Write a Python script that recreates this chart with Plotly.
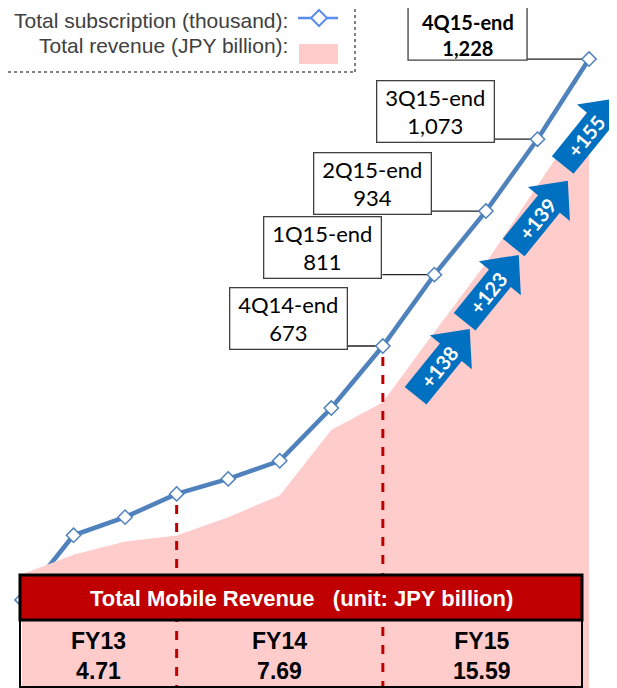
import numpy as np
import plotly.graph_objects as go

# quarterly data (1Q13 .. 4Q15)
quarters = ["1Q13", "2Q13", "3Q13", "4Q13", "1Q14", "2Q14", "3Q14", "4Q14",
            "1Q15", "2Q15", "3Q15", "4Q15"]
subscriptions = [182, 307, 342, 387, 416, 451, 553, 673, 811, 934, 1073, 1228]
revenue = [0.99, 1.15, 1.26, 1.31, 1.46, 1.64, 2.18, 2.41, 2.99, 3.56, 4.20, 4.84]

fy_labels = ["FY13", "FY14", "FY15"]
fy_revenue = ["4.71", "7.69", "15.59"]
fy_end_idx = [3, 7]          # quarter index of the FY boundaries (dashed lines)

callout_idx = [7, 8, 9, 10, 11]
callout_gap = [35, 52, 54, 43, 62]   # px between box and marker

W, H = 617, 688
PAGE = 8                     # body margin of the html page
x_idx = list(range(len(quarters)))

LINE_BLUE = "#4F81BD"
PINK = "#FFCCCC"
RED = "#C00000"
ARROW_BLUE = "#0070C0"

# pixel scales of the chart (in screen pixels)
X_STEP = 51.55               # px per quarter
X_FIRST = 22                 # screen x of first quarter
Y_BASE = 694                 # screen y of zero
SUB_PER_PX = 1.934
REV_PX = 121.07

def px(v):
    return (v - PAGE) / W

def py(v):
    return 1 - (v - PAGE) / H

def xpix(v):
    return X_FIRST + v * X_STEP

X0 = (PAGE - X_FIRST) / X_STEP
X1 = X0 + W / X_STEP

fig = go.Figure()

fig.add_trace(go.Scatter(
    x=x_idx, y=revenue, yaxis="y2",
    mode="lines", line=dict(width=0, color=PINK),
    fill="tozeroy", fillcolor=PINK,
    hoverinfo="skip", showlegend=False
))
fig.add_trace(go.Scatter(
    x=x_idx, y=subscriptions,
    mode="lines+markers",
    line=dict(color=LINE_BLUE, width=4.5),
    marker=dict(symbol="diamond", size=11, color="white",
                line=dict(color=LINE_BLUE, width=1.5)),
    showlegend=False
))

shapes = []
annotations = []

# callout boxes with connector lines to the markers
for i, gap in zip(callout_idx, callout_gap):
    shapes.append(dict(
        type="line", layer="below",
        xref="x", xsizemode="pixel", xanchor=i, x0=-gap, x1=0,
        yref="y", ysizemode="pixel", yanchor=subscriptions[i], y0=0, y1=0,
        line=dict(color="#202020", width=1.3)
    ))
    txt = f"{quarters[i]}-end<br>{subscriptions[i]:,}"
    if i == callout_idx[-1]:
        # last box runs off the top edge: draw the frame as a shape
        shapes.append(dict(
            type="rect", layer="above",
            xref="x", xsizemode="pixel", xanchor=i, x0=-gap - 119, x1=-gap,
            yref="y", ysizemode="pixel", yanchor=subscriptions[i], y0=-1, y1=80,
            fillcolor="white", line=dict(color="#404040", width=1.3)
        ))
        annotations.append(dict(
            x=i, y=subscriptions[i], xref="x", yref="y",
            xanchor="center", yanchor="middle", xshift=-gap - 59.5, yshift=24,
            text=f"<b>{txt}</b>", showarrow=False, align="center",
            font=dict(family="Lato", size=20, color="black")
        ))
        continue
    annotations.append(dict(
        x=i, y=subscriptions[i], xref="x", yref="y",
        xanchor="right", yanchor="bottom", xshift=-gap, yshift=-4,
        text=txt, showarrow=False, align="center",
        width=112, height=56, borderpad=2,
        bgcolor="white", bordercolor="#404040", borderwidth=1.3,
        font=dict(family="Lato", size=22, color="black")
    ))

# growth arrows between the last quarters
ang = np.deg2rad(51)
u = np.array([np.cos(ang), np.sin(ang)])
n = np.array([-np.sin(ang), np.cos(ang)])
pts = [-43 * u + 14 * n, -43 * u - 14 * n, 13 * u - 14 * n, 13 * u - 27 * n,
       43 * u, 13 * u + 27 * n, 13 * u + 14 * n]
for k in range(4):
    a, b = 7 + k, 8 + k
    xm = (a + b) / 2
    ym = (subscriptions[a] + subscriptions[b]) / 2
    off = np.array([34 - 2.5 * k, -52 + 6.5 * k])
    path = "M " + " L ".join(f"{p[0] + off[0]:.1f},{p[1] + off[1]:.1f}" for p in pts) + " Z"
    shapes.append(dict(
        type="path", path=path, layer="above",
        xref="x", xsizemode="pixel", xanchor=xm,
        yref="y", ysizemode="pixel", yanchor=ym,
        fillcolor=ARROW_BLUE, line=dict(width=0)
    ))
    tp = off - 6 * u
    annotations.append(dict(
        x=xm, y=ym, xref="x", yref="y", xshift=tp[0], yshift=tp[1],
        xanchor="center", yanchor="middle",
        text=f"<b>+{subscriptions[b] - subscriptions[a]}</b>",
        textangle=-51, showarrow=False,
        font=dict(family="Lato", size=20, color="white")
    ))

# dashed FY boundaries
for i in fy_end_idx:
    shapes.append(dict(
        type="line", layer="above",
        xref="x", x0=i, x1=i,
        yref="y", ysizemode="pixel", yanchor=subscriptions[i], y0=-11, y1=-700,
        line=dict(color=RED, width=3, dash="dash")
    ))

# revenue table
tbl_l, tbl_r, hdr_t, hdr_b, tbl_b = 20, 582, 575, 620, 687
shapes.append(dict(type="rect", xref="paper", yref="paper", layer="above",
                   x0=px(tbl_l), x1=px(tbl_r), y0=py(hdr_b), y1=py(hdr_t),
                   fillcolor=RED, line=dict(color="black", width=3)))
shapes.append(dict(type="rect", xref="paper", yref="paper", layer="above",
                   x0=px(tbl_l), x1=px(tbl_r), y0=py(tbl_b), y1=py(hdr_b),
                   fillcolor="rgba(0,0,0,0)", line=dict(color="black", width=2)))
annotations.append(dict(
    x=px((tbl_l + tbl_r) / 2), y=py((hdr_t + hdr_b) / 2 + 1), xref="paper", yref="paper",
    xanchor="center", yanchor="middle",
    text="<b>Total Mobile Revenue\u00a0\u00a0\u00a0(unit: JPY billion)</b>",
    showarrow=False, font=dict(family="Liberation Sans", size=22, color="white")
))

# column centres from the FY boundaries
edges = [tbl_l] + [xpix(i) for i in fy_end_idx] + [tbl_r]
for k, (lab, val) in enumerate(zip(fy_labels, fy_revenue)):
    annotations.append(dict(
        x=px((edges[k] + edges[k + 1]) / 2), y=py(656), xref="paper", yref="paper",
        xanchor="center", yanchor="middle",
        text=f"<b>{lab}<br>{val}</b>", showarrow=False,
        font=dict(family="Liberation Sans", size=23, color="black")
    ))

# legend box
LEG_BLUE = "#5B8DEF"
shapes.append(dict(type="line", xref="paper", yref="paper", x0=px(355), x1=px(355),
                   y0=py(72), y1=1, line=dict(color="#808080", width=2, dash="dot")))
shapes.append(dict(type="line", xref="paper", yref="paper", x0=0, x1=px(355),
                   y0=py(72), y1=py(72), line=dict(color="#808080", width=2, dash="dot")))
shapes.append(dict(type="line", xref="paper", yref="paper", x0=px(298), x1=px(338),
                   y0=py(18), y1=py(18), line=dict(color=LEG_BLUE, width=2.5)))
shapes.append(dict(type="path", xref="paper", yref="paper",
                   xsizemode="pixel", ysizemode="pixel", xanchor=px(319), yanchor=py(18),
                   path="M -8,0 L 0,8 L 8,0 L 0,-8 Z",
                   fillcolor="white", line=dict(color=LEG_BLUE, width=2)))
shapes.append(dict(type="rect", xref="paper", yref="paper", x0=px(299), x1=px(338),
                   y0=py(64), y1=py(44), fillcolor=PINK, line=dict(width=0)))
annotations.append(dict(x=px(290), y=py(20), xref="paper", yref="paper",
                        xanchor="right", yanchor="middle",
                        text="Total subscription (thousand):",
                        showarrow=False, font=dict(family="Liberation Sans", size=21, color="#404040")))
annotations.append(dict(x=px(290), y=py(46), xref="paper", yref="paper",
                        xanchor="right", yanchor="middle",
                        text="Total revenue (JPY billion):",
                        showarrow=False, font=dict(family="Liberation Sans", size=21, color="#404040")))

fig.update_layout(
    width=W, height=H,
    margin=dict(l=0, r=0, t=0, b=0),
    paper_bgcolor="white", plot_bgcolor="white",
    xaxis=dict(range=[X0, X1], visible=False, fixedrange=True),
    yaxis=dict(range=[(Y_BASE - PAGE - H) * SUB_PER_PX, (Y_BASE - PAGE) * SUB_PER_PX],
               visible=False, fixedrange=True),
    yaxis2=dict(range=[(Y_BASE - PAGE - H) / REV_PX, (Y_BASE - PAGE) / REV_PX],
                overlaying="y", visible=False, fixedrange=True),
    shapes=shapes,
    annotations=annotations,
)

fig.write_html("out.html")
